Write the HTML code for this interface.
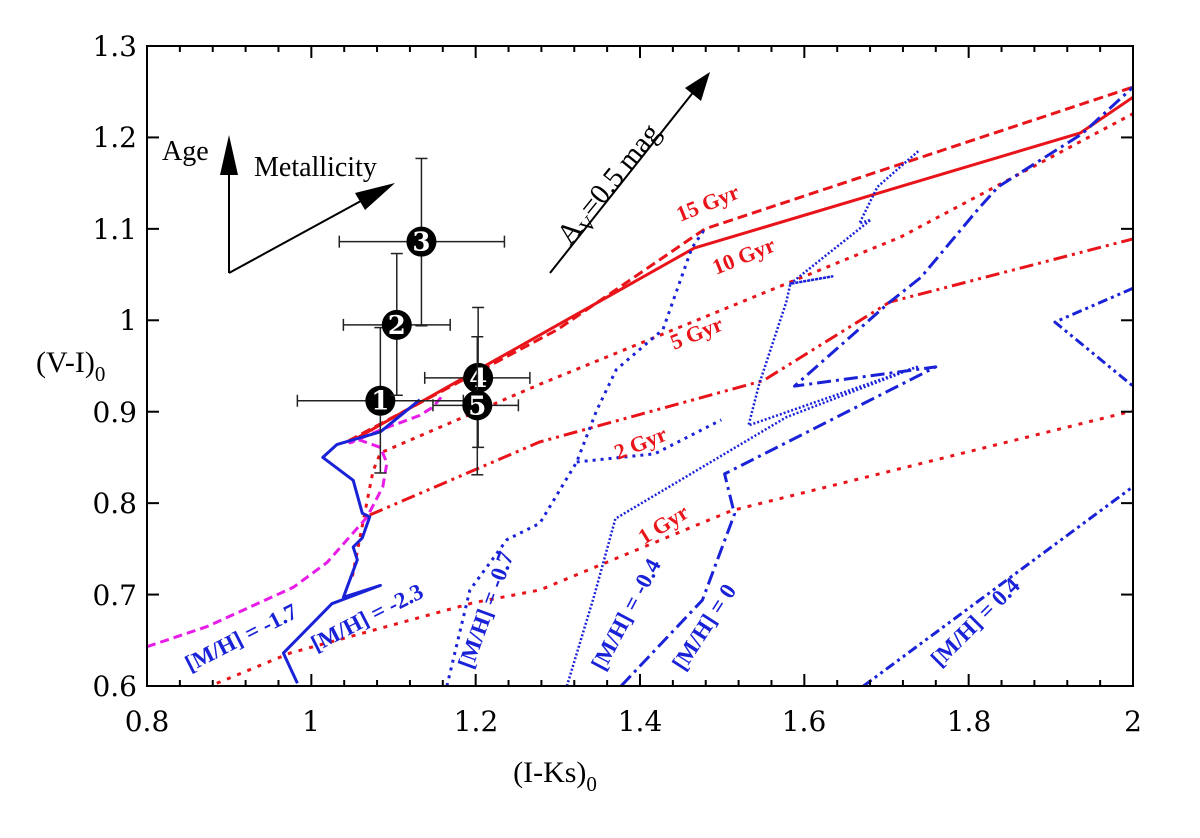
<!DOCTYPE html>
<html><head><meta charset="utf-8"><style>
html,body{margin:0;padding:0;background:#fff;}
svg{display:block;}
</style></head><body>
<svg id="chart" width="1200" height="838" viewBox="0 0 1200 838"></svg>
<script>
const xTicks=[0.8,1,1.2,1.4,1.6,1.8,2];
const yTicks=[0.6,0.7,0.8,0.9,1,1.1,1.2,1.3];
// isochrones (red)
const iso15=[[1.045,0.868],[1.30,0.99],[1.479,1.100],[2.0,1.255]];
const iso10=[[1.047,0.867],[1.466,1.079],[1.936,1.205],[2.0,1.244]];
const iso5=[[1.05,0.72],[1.075,0.835],[1.084,0.855],[1.278,0.930],[1.717,1.091],[2.0,1.226]];
const iso2=[[1.071,0.787],[1.278,0.867],[1.550,0.934],[1.704,1.020],[2.0,1.089]];
const iso1=[[0.885,0.603],[0.974,0.636],[1.197,0.691],[1.278,0.705],[1.512,0.792],[2.0,0.901]];
// metallicity tracks (blue / magenta)
const mhm23=[[0.983,0.603],[0.966,0.636],[1.025,0.690],[1.084,0.710],[1.039,0.697],[1.056,0.738],[1.051,0.752],[1.062,0.762],[1.071,0.785],[1.062,0.789],[1.051,0.825],[1.014,0.850],[1.031,0.864],[1.084,0.878],[1.132,0.913]];
const mhm17=[[0.8,0.643],[0.873,0.665],[0.978,0.708],[1.019,0.735],[1.068,0.785],[1.087,0.818],[1.092,0.844],[1.084,0.861],[1.059,0.869],[1.047,0.866],[1.084,0.880],[1.132,0.896],[1.148,0.905],[1.160,0.918]];
const mhm07=[[1.165,0.600],[1.193,0.705],[1.238,0.760],[1.278,0.778],[1.323,0.845],[1.347,0.901],[1.371,0.946],[1.428,0.990],[1.463,1.079],[1.479,1.100]];
const mhm07b=[[1.323,0.845],[1.418,0.854],[1.499,0.891]];
const mhm04=[[1.311,0.600],[1.344,0.698],[1.370,0.783],[1.578,0.894],[1.737,0.949],[1.532,0.885],[1.545,0.930],[1.578,1.020],[1.583,1.040],[1.634,1.048],[1.583,1.040],[1.681,1.110],[1.667,1.106],[1.689,1.146],[1.740,1.186]];
const mh0=[[1.377,0.600],[1.476,0.694],[1.515,0.788],[1.503,0.832],[1.760,0.949],[1.588,0.928],[1.704,1.020],[1.742,1.047],[1.812,1.122],[1.836,1.146],[1.938,1.204],[2.0,1.255]];
const mhp04a=[[1.672,0.600],[2.0,0.818]];
const mhp04b=[[2.0,1.035],[1.905,0.998],[2.0,0.928]];
// clusters
const clusterIds=["1","2","3","4","5"];
const clusterX=[1.084,1.104,1.134,1.203,1.202];
const clusterY=[0.912,0.995,1.086,0.937,0.907];
const clusterXLo=[0.983,1.039,1.034,1.138,1.148];
const clusterXHi=[1.185,1.169,1.235,1.266,1.252];
const clusterYLo=[0.833,0.918,0.994,0.861,0.831];
const clusterYHi=[0.992,1.073,1.177,1.014,0.982];

const X0=147,X1=1133,Y0=686,Y1=46;
const sx=v=>X0+(v-0.8)/(2.0-0.8)*(X1-X0);
const sy=v=>Y0-(v-0.6)/(1.3-0.6)*(Y0-Y1);
const NS="http://www.w3.org/2000/svg";
const svg=document.getElementById('chart');
function mk(tag,attrs,parent){const e=document.createElementNS(NS,tag);for(const k in attrs)e.setAttribute(k,attrs[k]);(parent||svg).appendChild(e);return e;}

const RED="#e8141a",BLUE="#1a22d8",MAG="#e81ce8";
const clip=mk('clipPath',{id:'pc'});mk('rect',{x:X0,y:Y1,width:X1-X0,height:Y0-Y1},clip);
const g=mk('g',{'clip-path':'url(#pc)'});
function gline(pts,color,dash,w,name){
  const d=pts.map((p,i)=>(i?'L':'M')+sx(p[0]).toFixed(1)+','+sy(p[1]).toFixed(1)).join(' ');
  const e=mk('path',{d:d,fill:'none',stroke:color,'stroke-width':w||3,'stroke-dasharray':dash||'none','stroke-linejoin':'round'},g);
  
  
}
gline(iso1,RED,'4,7',3,'isochrone-1gyr');
gline(iso2,RED,'14,5,3,5,3,5',3,'isochrone-2gyr');
gline(iso5,RED,'4,6',3,'isochrone-5gyr');
gline(iso10,RED,'none',3,'isochrone-10gyr');
gline(iso15,RED,'10,5',3,'isochrone-15gyr');
gline(mhm17,MAG,'9,5',3,'track-mh-m1.7');
gline(mhm23,BLUE,'none',3,'track-mh-m2.3');
gline(mhm07,BLUE,'3,5',3,'track-mh-m0.7');
gline(mhm07b,BLUE,'3,5',3,'track-mh-m0.7-loop');
gline(mhm04,BLUE,'2,2',2.5,'track-mh-m0.4');
gline(mh0,BLUE,'14,5,3,5',3,'track-mh-0');
gline(mhp04a,BLUE,'10,4,3,4,3,4',3,'track-mh-p0.4');
gline(mhp04b,BLUE,'10,4,3,4,3,4',3,'track-mh-p0.4-upper');

const fr=mk('rect',{x:X0,y:Y1,width:X1-X0,height:Y0-Y1,fill:'none',stroke:'#000','stroke-width':2});


for(let v=0.8;v<=2.0001;v+=0.04){
  const major=Math.abs(v*5-Math.round(v*5))<1e-6;const L=major?12:6;const x=sx(v);
  mk('line',{x1:x,y1:Y0,x2:x,y2:Y0-L,stroke:'#000','stroke-width':2});
  mk('line',{x1:x,y1:Y1,x2:x,y2:Y1+L,stroke:'#000','stroke-width':2});
}
yTicks.forEach(v=>{const y=sy(v);
  mk('line',{x1:X0,y1:y,x2:X0+12,y2:y,stroke:'#000','stroke-width':2});
  mk('line',{x1:X1,y1:y,x2:X1-12,y2:y,stroke:'#000','stroke-width':2});
});

clusterIds.forEach((id,i)=>{
  const cx=sx(clusterX[i]),cy=sy(clusterY[i]);
  const eg=mk('g',{});
  
  
  mk('line',{x1:sx(clusterXLo[i]),y1:cy,x2:sx(clusterXHi[i]),y2:cy,stroke:'#222','stroke-width':1.5},eg);
  mk('line',{x1:cx,y1:sy(clusterYLo[i]),x2:cx,y2:sy(clusterYHi[i]),stroke:'#222','stroke-width':1.5},eg);
  [clusterXLo[i],clusterXHi[i]].forEach(v=>mk('line',{x1:sx(v),y1:cy-6,x2:sx(v),y2:cy+6,stroke:'#222','stroke-width':1.5},eg));
  [clusterYLo[i],clusterYHi[i]].forEach(v=>mk('line',{x1:cx-6,y1:sy(v),x2:cx+6,y2:sy(v),stroke:'#222','stroke-width':1.5},eg));
  mk('circle',{cx:cx,cy:cy,r:15,fill:'#000'},eg);
  const t=mk('text',{x:cx,y:cy+9,'font-size':26,'font-weight':'bold',fill:'#fff','text-anchor':'middle','font-family':'DejaVu Serif, serif'},eg);t.textContent=id;
});
</script>
<svg width="1200" height="838" style="position:absolute;left:0;top:0" font-family="Liberation Serif, serif">
<g font-family="Liberation Serif, serif">
<g font-size="28" text-anchor="middle" font-family="DejaVu Serif, serif">
<text x="147" y="731">0.8</text><text x="311" y="731">1</text><text x="476" y="731">1.2</text><text x="640" y="731">1.4</text><text x="804" y="731">1.6</text><text x="969" y="731">1.8</text><text x="1133" y="731">2</text>
</g>
<g font-size="28" text-anchor="end" font-family="DejaVu Serif, serif">
<text x="137" y="696">0.6</text><text x="137" y="605">0.7</text><text x="137" y="513">0.8</text><text x="137" y="422">0.9</text><text x="137" y="330">1</text><text x="137" y="239">1.1</text><text x="137" y="147">1.2</text><text x="137" y="56">1.3</text>
</g>
<line x1="229" y1="273" x2="229" y2="150" stroke="#000" stroke-width="2"/>
<path d="M229,135 L220,175 L238,175 z" fill="#000"/>
<line x1="229" y1="273" x2="370" y2="196" stroke="#000" stroke-width="2"/>
<path d="M395,183 L355,193 L365,210 z" fill="#000"/>
<line x1="550" y1="273" x2="695" y2="90" stroke="#000" stroke-width="2"/>
<path d="M710,72 L685,88 L701,101 z" fill="#000"/>
<text x="162" y="160" font-size="28">Age</text>
<text x="254" y="176" font-size="28">Metallicity</text>
<text transform="translate(570,246) rotate(-51)" font-size="29">A<tspan font-size="20" dy="7">V</tspan><tspan dy="-7">=0.5 mag</tspan></text>
<g fill="#e8141a" font-weight="bold" font-size="22">
<text transform="translate(680,222) rotate(-22)">15 Gyr</text>
<text transform="translate(716,275) rotate(-22)">10 Gyr</text>
<text transform="translate(674,350) rotate(-22)">5 Gyr</text>
<text transform="translate(618,460) rotate(-22)">2 Gyr</text>
<text transform="translate(644,545) rotate(-32)">1 Gyr</text>
</g>
<g fill="#1a22d8" font-size="23" font-weight="bold">
<text transform="translate(190,672) rotate(-27)">[M/H] = -1.7</text>
<text transform="translate(316,652) rotate(-27)">[M/H] = -2.3</text>
<text transform="translate(472,670) rotate(-70)">[M/H] = -0.7</text>
<text transform="translate(604,672) rotate(-62)">[M/H] = -0.4</text>
<text transform="translate(684,672) rotate(-57)">[M/H] = 0</text>
<text transform="translate(940,668) rotate(-45)">[M/H] = 0.4</text>
</g>
<text x="555" y="782" font-size="30" text-anchor="middle">(I-Ks)<tspan font-size="21" dy="9">0</tspan></text>
<text x="36" y="372" font-size="30">(V-I)<tspan font-size="21" dy="9">0</tspan></text>
</g>
</svg>
</body></html>
